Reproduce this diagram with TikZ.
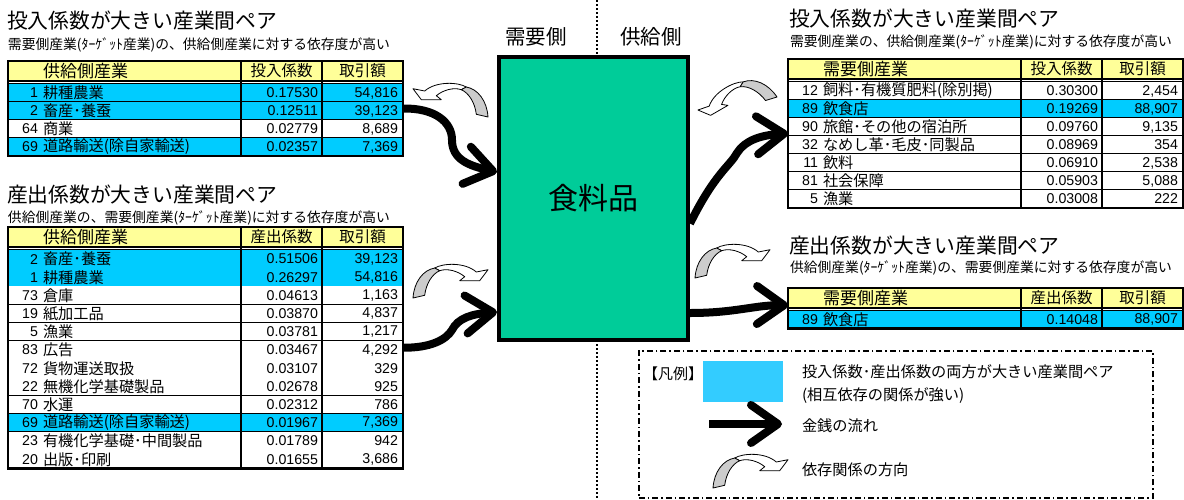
\documentclass[tikz,border=0pt]{standalone}
\usepackage{fontspec}
\setmainfont{Noto Sans CJK JP}
\newfontfamily\arialf{Liberation Sans}
\usetikzlibrary{arrows.meta}
\definecolor{hdrY}{HTML}{FFFF99}
\definecolor{blu}{HTML}{00CCFF}
\definecolor{lgblu}{HTML}{33CCFF}
\definecolor{foodgreen}{HTML}{00CC99}
\definecolor{depgrey}{HTML}{CCCCCC}
\newcommand\setfs[1]{\fontsize{#1}{#1}\selectfont}
\tikzset{
  txt/.style={inner sep=0pt, outer sep=0pt},
  title/.style={txt, anchor=west, font=\setfs{20.8}},
  subt/.style={txt, anchor=west, font=\setfs{13.8}},
  cellname/.style={txt, anchor=west, font=\setfs{15.2}},
  cellnum/.style={txt, anchor=east, font=\arialf\setfs{14.2}},
  hdrA/.style={txt, anchor=west, font=\setfs{17}},
  hdrB/.style={txt, font=\setfs{15.5}},
  gridline/.style={line width=1.2pt},
  tframe/.style={draw, line width=2.5pt, inner sep=0pt, outer sep=0pt, minimum width=395pt, anchor=north west},
  money/.style={line width=8pt, line cap=butt, -{Straight Barb[length=27pt,width=38pt,round]}},
  lgtext/.style={txt, anchor=west, font=\setfs{15.2}},
  dep/.pic={
    \filldraw[fill=white, draw=black, line width=0.8pt, line join=round]
      (21.7,-30) .. controls (30,-35) and (52,-36) .. (63.3,-26) -- (75,-28.3) -- (66.7,-17.3)
      -- (46.7,-17.3) -- (51.7,-21.3) .. controls (45,-27) and (34,-30) .. (26.7,-27.3) -- cycle;
    \filldraw[fill=depgrey, draw=black, line width=0.8pt, line join=round]
      (0,0) .. controls (1,-16) and (10,-28) .. (21.7,-30) -- (26.7,-27.3)
      .. controls (19,-24) and (13,-14) .. (11.7,-2.7) -- cycle;
  }
}
\newcommand\tablehead[4]{%
  \fill[hdrY] (0,0) rectangle (395,19.5);
  \node[hdrA] (#1-h1) at (35,9.7) {#2};
  \node[hdrB] (#1-h2) at (273.5,9.7) {#3};
  \node[hdrB] (#1-h3) at (354.5,9.7) {#4};
  \draw[line width=2pt] (0,19.5) -- (395,19.5);
  \draw[line width=1pt] (0,22.3) -- (395,22.3);
}
\newcommand\tablerows[3]{%
  \foreach[count=\i] \fl/\nu/\nm/\cf/\am in {#3}{%
    \pgfmathsetmacro\yt{23+(\i-1)*#2}%
    \pgfmathsetmacro\yb{23+\i*#2}%
    \pgfmathsetmacro\ym{23+(\i-0.5)*#2}%
    \fill[\fl] (0,\yt) rectangle (395,\yb);
    \draw[gridline] (0,\yb) -- (395,\yb);
    \node[cellnum] (#1-n\i) at (30,\ym) {\nu};
    \node[cellname] (#1-t\i) at (35,\ym) {\nm};
    \node[cellnum] (#1-c\i) at (310,\ym) {\cf};
    \node[cellnum] (#1-a\i) at (390,\ym) {\am};
  }%
}
\newcommand\tableframe[2]{%
  \draw[line width=2pt] (233,0) -- (233,#2) (314,0) -- (314,#2);
  \node[tframe, minimum height=#2pt] (#1) at (0,0) {};
}
\begin{document}
\begin{tikzpicture}[x=1pt, y=-1pt]
\useasboundingbox (0,0) rectangle (1184,499);
\fill[white] (0,0) rectangle (1184,499);

% divider line
\draw[line width=2pt, dash pattern=on 2pt off 2pt] (597,0) -- (597,499);

% titles
\node[title] (tlTitle) at (7,21) {投入係数が大きい産業間ペア};
\node[subt] (tlSub) at (8,45) {需要側産業(ﾀｰｹﾞｯﾄ産業)の、供給側産業に対する依存度が高い};
\node[title] (blTitle) at (7,195) {産出係数が大きい産業間ペア};
\node[subt] (blSub) at (8,218) {供給側産業の、需要側産業(ﾀｰｹﾞｯﾄ産業)に対する依存度が高い};
\node[title] (trTitle) at (789,19) {投入係数が大きい産業間ペア};
\node[subt] (trSub) at (790,42) {需要側産業の、供給側産業(ﾀｰｹﾞｯﾄ産業)に対する依存度が高い};
\node[title] (brTitle) at (789,246) {産出係数が大きい産業間ペア};
\node[subt] (brSub) at (790,268) {供給側産業(ﾀｰｹﾞｯﾄ産業)の、需要側産業に対する依存度が高い};

% tables
\begin{scope}[shift={(8,61)}]
  \tablehead{TL}{供給側産業}{投入係数}{取引額}
  \tablerows{TL}{18}{blu/1/耕種農業/0.17530/{54,816}, blu/2/畜産･養蚕/0.12511/{39,123}, white/64/商業/0.02779/{8,689}, blu/69/道路輸送(除自家輸送)/0.02357/{7,369}}
  \tableframe{tblTL}{95}
\end{scope}
\begin{scope}[shift={(8,227)}]
  \tablehead{BL}{供給側産業}{産出係数}{取引額}
  \tablerows{BL}{18.2}{blu/2/畜産･養蚕/0.51506/{39,123}, blu/1/耕種農業/0.26297/{54,816}, white/73/倉庫/0.04613/{1,163}, white/19/紙加工品/0.03870/{4,837}, white/5/漁業/0.03781/{1,217}, white/83/広告/0.03467/{4,292}, white/72/貨物運送取扱/0.03107/329, white/22/無機化学基礎製品/0.02678/925, white/70/水運/0.02312/786, blu/69/道路輸送(除自家輸送)/0.01967/{7,369}, white/23/有機化学基礎･中間製品/0.01789/942, white/20/出版･印刷/0.01655/{3,686}}
  \tableframe{tblBL}{241.4}
\end{scope}
\begin{scope}[shift={(788,59)}]
  \tablehead{TR}{需要側産業}{投入係数}{取引額}
  \tablerows{TR}{18}{white/12/飼料･有機質肥料(除別掲)/0.30300/{2,454}, blu/89/飲食店/0.19269/{88,907}, white/90/旅館･その他の宿泊所/0.09760/{9,135}, white/32/なめし革･毛皮･同製品/0.08969/354, white/11/飲料/0.06910/{2,538}, white/81/社会保障/0.05903/{5,088}, white/5/漁業/0.03008/222}
  \tableframe{tblTR}{149}
\end{scope}
\begin{scope}[shift={(788,288)}]
  \tablehead{BR}{需要側産業}{産出係数}{取引額}
  \tablerows{BR}{17.5}{blu/89/飲食店/0.14048/{88,907}}
  \tableframe{tblBR}{40.5}
\end{scope}

% centre
\node[txt, font=\setfs{20.5}] (demand) at (536,37) {需要側};
\node[txt, font=\setfs{20.5}] (supply) at (651,37) {供給側};
\node[draw, line width=4pt, fill=foodgreen, minimum width=189pt, minimum height=283pt, inner sep=0pt, font=\setfs{30}] (food) at (593.5,198.5) {食料品};

% money flows
\draw[money] (tblTL.east) .. controls (435,108) and (452,122) .. (452,140) .. controls (452,160) and (470,166) .. ([yshift=26.5pt]food.west);
\draw[money] (tblBL.east) .. controls (430,348) and (446,340) .. (452,330) .. controls (458,318) and (472,314) .. ([yshift=-113.5pt]food.west);
\draw[money] ([yshift=-25pt]food.east) .. controls (715,173) and (730,166) .. (737,153) .. controls (745,140) and (762,135) .. (tblTR.west);
\draw[money] ([yshift=-114.5pt]food.east) .. controls (735,313) and (755,305) .. ([yshift=3pt]tblBR.west);

% dependency arrows
\pic[xscale=-1] (depTL) at (488,117) {dep};
\pic (depBL) at (413,298) {dep};
\pic[rotate=30, xscale=-1] (depTR) at (777,97) {dep};
\pic (depBR) at (695,278) {dep};

% legend
\node[draw, line width=1.5pt, dash pattern=on 6pt off 3pt on 1.5pt off 3pt, minimum width=514pt, minimum height=147pt, inner sep=0pt, anchor=north west] (legend) at (638,350) {};
\node[txt, anchor=west, font=\setfs{15}] (lgTitle) at (643,374) {【凡例】};
\node[fill=lgblu, minimum width=80pt, minimum height=41pt, inner sep=0pt, anchor=north west] (lgBlue) at (703,361) {};
\node[lgtext] (lg1) at (802,372) {投入係数･産出係数の両方が大きい産業間ペア};
\node[lgtext] (lg2) at (802,396) {(相互依存の関係が強い)};
\coordinate (lgA) at (709,424);
\coordinate (lgB) at (782,424);
\draw[money] (lgA) -- (lgB);
\node[lgtext] (lg3) at (802,426) {金銭の流れ};
\pic (depLG) at (713,488) {dep};
\node[lgtext] (lg4) at (802,470) {依存関係の方向};
\end{tikzpicture}
\end{document}
